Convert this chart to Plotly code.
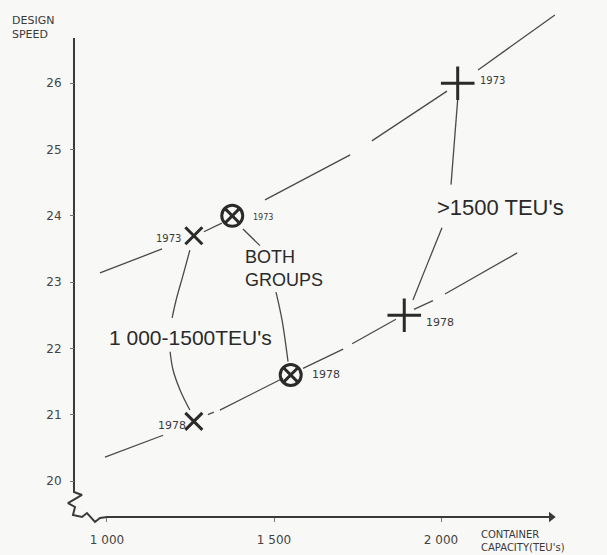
import plotly.graph_objects as go

# Design speed (knots) against container capacity (TEU), 1973 and 1978
groups = ["1 000-1500 TEU's", "both groups", ">1500 TEU's"]
cap_1973 = [1260, 1375, 2050]
speed_1973 = [23.7, 24.0, 26.0]
cap_1978 = [1260, 1550, 1890]
speed_1978 = [20.9, 21.6, 22.5]

# Trend line for 1973 (broken print line; None marks a gap)
upper_x = [979, 1165, None, 1290, 1344, None, 1473, 1728, None, 1793, 2018, None, 2111, 2341]
upper_y = [23.14, 23.50, None, 23.76, 23.89, None, 24.24, 24.92, None, 25.13, 25.88, None, 26.20, 27.03]

# Trend line for 1978
lower_x = [994, 1168, None, 1302, 1320, None, 1338, 1527, None, 1587, 1707, None,
           1734, 1865, None, 1919, 1976, None, 2012, 2228]
lower_y = [20.36, 20.69, None, 21.00, 21.04, None, 21.07, 21.55, None, 21.70, 21.99, None,
           22.07, 22.44, None, 22.59, 22.72, None, 22.82, 23.44]

# Curves joining the 1973 and 1978 point of each group
link_small_x = [1248, 1228, 1207, 1195, None, 1189, 1198, 1219, 1248]
link_small_y = [23.48, 23.11, 22.73, 22.46, None, 21.95, 21.67, 21.37, 21.07]
link_both_x = [1407, 1458, None, 1506, 1524, 1542]
link_both_y = [23.80, 23.55, None, 22.85, 22.43, 21.80]
link_large_x = [2051, 2030, None, 2003, 1958, 1916]
link_large_y = [25.82, 24.47, None, 23.82, 23.26, 22.73]

# Axes with the broken corner
axis_x = [901.2, 901.2, 925.2, 883.2, 904.2, 898.2, 925.2, 940.1, 964.1, 979.0, 1000, 2330]
axis_y = [26.68, 19.834, 19.789, 19.668, 19.608, 19.487, 19.457, 19.517, 19.382, 19.442, 19.457, 19.457]

y_ticks = [20, 21, 22, 23, 24, 25, 26]
x_ticks = [1000, 1500, 2000]
x_tick_text = ["1 000", "1 500", "2 000"]

INK = "#2a2a2a"
LINE = "#4a4a4a"
BG = "#f8f8f7"

fig = go.Figure()

line_sets = [(upper_x, upper_y, "linear"), (lower_x, lower_y, "linear"),
             (link_small_x, link_small_y, "spline"), (link_both_x, link_both_y, "spline"),
             (link_large_x, link_large_y, "spline")]
for xs, ys, shape in line_sets:
    fig.add_trace(go.Scatter(x=xs, y=ys, mode="lines", connectgaps=False,
                             line=dict(color=LINE, width=1.3, shape=shape),
                             hoverinfo="skip", showlegend=False))

fig.add_trace(go.Scatter(x=axis_x, y=axis_y, mode="lines",
                         line=dict(color="#3a3a3a", width=2),
                         hoverinfo="skip", showlegend=False))
fig.add_trace(go.Scatter(x=[axis_x[-1]], y=[axis_y[-1]], mode="markers",
                         marker=dict(symbol="triangle-right", size=9, color="#3a3a3a"),
                         hoverinfo="skip", showlegend=False))

symbols = ["x-thin-open", "circle-x-open", "cross-thin-open"]
sizes = [17, 21, 24]
for i in range(3):
    fig.add_trace(go.Scatter(x=[cap_1973[i], cap_1978[i]], y=[speed_1973[i], speed_1978[i]],
                             mode="markers", name=groups[i],
                             marker=dict(symbol=symbols[i], size=sizes[i], color=INK,
                                         line=dict(color=INK, width=3)),
                             showlegend=False))

# Year tags beside each point
year_font = dict(family="DejaVu Sans", color="#3a3a3a")
tags = [
    (cap_1973[0], speed_1973[0], "1973", "right", -11, -3, 10),
    (cap_1973[1], speed_1973[1], "1973", "left", 19, -2, 8),
    (cap_1973[2], speed_1973[2], "1973", "left", 20, 3, 10),
    (cap_1978[0], speed_1978[0], "1978", "right", -6, -4, 11),
    (cap_1978[1], speed_1978[1], "1978", "left", 19, 0, 11),
    (cap_1978[2], speed_1978[2], "1978", "left", 20, -7, 11),
]
for x, y, t, xa, dx, dy, fs in tags:
    fig.add_annotation(x=x, y=y, xref="x", yref="y", text=t, showarrow=False,
                       xanchor=xa, yanchor="middle", xshift=dx, yshift=dy,
                       font=dict(size=fs, **year_font))

big_font = dict(family="Liberation Sans", color="#2a2a2a")
fig.add_annotation(x=1251, y=22.16, xref="x", yref="y", text="1 000-1500TEU's",
                   showarrow=False, xanchor="center", yanchor="middle",
                   font=dict(size=21, **big_font))
fig.add_annotation(x=1407, y=23.21, xref="x", yref="y", text="BOTH<br>GROUPS",
                   showarrow=False, xanchor="left", yanchor="middle", align="left",
                   font=dict(size=18, **big_font))
fig.add_annotation(x=1982, y=24.12, xref="x", yref="y", text="&gt;1500 TEU's",
                   showarrow=False, xanchor="left", yanchor="middle",
                   font=dict(size=22, **big_font))

# Axis titles
W, H = 607, 555
fig.add_annotation(x=10 / W, y=1 - 12 / H, xref="paper", yref="paper",
                   text="DESIGN<br>SPEED", showarrow=False, xanchor="left", yanchor="top",
                   align="left", font=dict(family="DejaVu Sans", size=11, color="#3a3a3a"))
fig.add_annotation(x=479 / W, y=0, xref="paper", yref="paper",
                   text="CONTAINER<br>CAPACITY(TEU's)", showarrow=False,
                   xanchor="left", yanchor="bottom", align="left",
                   font=dict(family="DejaVu Sans", size=10, color="#3a3a3a"))

fig.update_layout(
    width=W, height=H,
    margin=dict(l=0, r=0, t=0, b=0),
    paper_bgcolor=BG, plot_bgcolor=BG,
    showlegend=False,
    xaxis=dict(domain=[60 / W, 1], range=[859.3, 2497], anchor="free", position=38 / H,
               showgrid=False, zeroline=False, showline=False,
               tickvals=x_ticks, ticktext=x_tick_text, ticks="outside", ticklen=4,
               tickcolor="#777", ticklabelstandoff=8,
               tickfont=dict(family="DejaVu Sans", size=12, color="#444")),
    yaxis=dict(domain=[25 / H, 1], range=[19.261, 27.255], anchor="free", position=74 / W,
               showgrid=False, zeroline=False, showline=False,
               tickvals=y_ticks, ticks="outside", ticklen=4, tickcolor="#777",
               ticklabelstandoff=6,
               tickfont=dict(family="DejaVu Sans", size=12, color="#444")),
)

fig.write_html("out.html")
